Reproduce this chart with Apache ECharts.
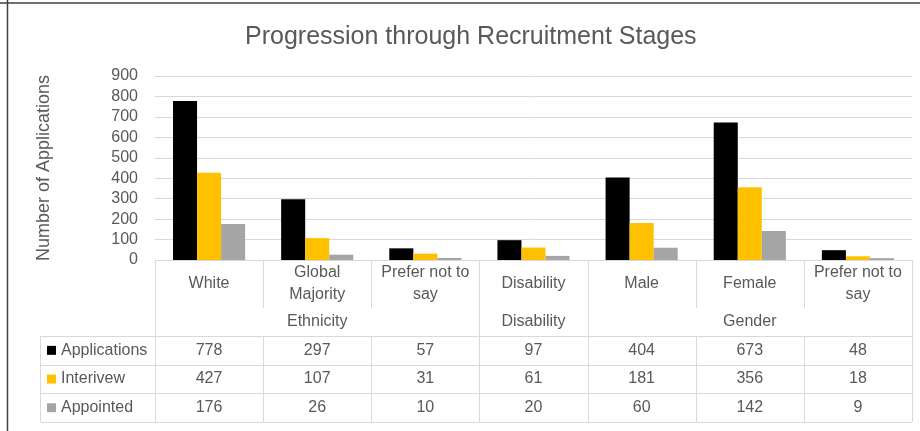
<!DOCTYPE html>
<html>
<head>
<meta charset="utf-8">
<script src="https://cdn.jsdelivr.net/npm/echarts@6/dist/echarts.min.js"></script>
<style>
  html, body { margin: 0; padding: 0; background: #fff; }
  #main { width: 920px; height: 431px; }
</style>
</head>
<body>
<div id="main"></div>
<script>
const categories = ['White', 'Global\nMajority', 'Prefer not to\nsay', 'Disability', 'Male', 'Female', 'Prefer not to\nsay']
const groupNames = ['Ethnicity', 'Disability', 'Gender']
const groupSizes = [3, 1, 3]
const seriesNames = ['Applications', 'Interivew', 'Appointed']
const applications = [778, 297, 57, 97, 404, 673, 48]
const interview = [427, 107, 31, 61, 181, 356, 18]
const appointed = [176, 26, 10, 20, 60, 142, 9]
const yTicks = [0, 900, 100]

const colors = ['#000000', '#FFC000', '#A5A5A5']
const textColor = '#595959'
const lineColor = '#D9D9D9'
const font = 'Liberation Sans, Arial, sans-serif'

const chart = echarts.init(document.getElementById('main'))

const seriesData = [applications, interview, appointed]

const option = {
  animation: false,
  textStyle: { fontFamily: font },
  title: {
    text: 'Progression through Recruitment Stages',
    left: 240,
    top: 20,
    textStyle: { fontFamily: font, fontSize: 25, fontWeight: 'normal', color: textColor }
  },
  grid: { left: 155, right: 8, top: 76, bottom: 171 },
  xAxis: {
    type: 'category',
    data: categories,
    axisTick: { show: false },
    axisLine: { show: true, lineStyle: { color: lineColor } },
    axisLabel: {
      interval: 0,
      color: textColor,
      fontSize: 16,
      lineHeight: 22,
      margin: 24,
      verticalAlign: 'middle'
    }
  },
  yAxis: {
    type: 'value',
    min: yTicks[0],
    max: yTicks[1],
    interval: yTicks[2],
    name: 'Number of Applications',
    nameLocation: 'middle',
    nameRotate: 90,
    nameGap: 102,
    nameTextStyle: { color: textColor, fontSize: 18 },
    axisLine: { show: false },
    axisTick: { show: false },
    axisLabel: { color: textColor, fontSize: 16, margin: 17 },
    splitLine: { lineStyle: { color: lineColor } }
  },
  series: seriesNames.map((name, i) => ({
    name: name,
    type: 'bar',
    data: seriesData[i],
    barGap: 0,
    barCategoryGap: '33.3%',
    itemStyle: { color: colors[i] }
  }))
}

chart.setOption(option)

// data table under the plot, placed from the axis positions
const c0 = chart.convertToPixel({ xAxisIndex: 0 }, 0)
const c1 = chart.convertToPixel({ xAxisIndex: 0 }, 1)
const cw = c1 - c0
const tableLeft = c0 - cw / 2
const tableRight = tableLeft + cw * categories.length
const yBase = chart.convertToPixel({ yAxisIndex: 0 }, 0)
const catBottom = yBase + 48
const headBottom = yBase + 76
const rowH = 28.7
const legendLeft = 40.5

const graphics = []
const line = (x1, y1, x2, y2, color, w) => {
  graphics.push({
    type: 'line',
    silent: true,
    shape: { x1: x1, y1: y1, x2: x2, y2: y2 },
    style: { stroke: color || lineColor, lineWidth: w || 1 }
  })
}
const text = (str, x, y, align) => {
  graphics.push({
    type: 'text',
    silent: true,
    x: x,
    y: y,
    style: {
      text: str,
      fill: textColor,
      font: '16px ' + font,
      align: align || 'center',
      verticalAlign: 'middle'
    }
  })
}

// outer frame (top and left only)
line(0, 3, 920, 3, '#404040', 1.5)
line(7.5, 0, 7.5, 431, '#404040', 1.5)

// vertical lines in header part
let groupEdges = [0]
groupSizes.forEach(s => groupEdges.push(groupEdges[groupEdges.length - 1] + s))
for (let i = 0; i <= categories.length; i++) {
  const x = Math.round(tableLeft + i * cw) + 0.5
  const full = groupEdges.indexOf(i) >= 0
  line(x, yBase, x, full ? headBottom + rowH * 3 : catBottom)
  if (!full) line(x, headBottom, x, headBottom + rowH * 3)
}

// group labels
let start = 0
groupNames.forEach((g, k) => {
  const mid = tableLeft + (start + groupSizes[k] / 2) * cw
  text(g, mid, yBase + 62)
  start += groupSizes[k]
})

// data rows
for (let r = 0; r <= 3; r++) {
  const y = Math.round(headBottom + r * rowH) + 0.5
  line(legendLeft, y, tableRight, y)
}
line(legendLeft, headBottom, legendLeft, headBottom + rowH * 3)

seriesNames.forEach((name, r) => {
  const cy = headBottom + (r + 0.5) * rowH
  graphics.push({
    type: 'rect',
    silent: true,
    shape: { x: 47, y: cy - 4.5, width: 9, height: 9 },
    style: { fill: colors[r] }
  })
  text(name, 61, cy, 'left')
  seriesData[r].forEach((v, i) => {
    text(String(v), tableLeft + (i + 0.5) * cw, cy)
  })
})

chart.setOption({ graphic: graphics })
</script>
</body>
</html>
